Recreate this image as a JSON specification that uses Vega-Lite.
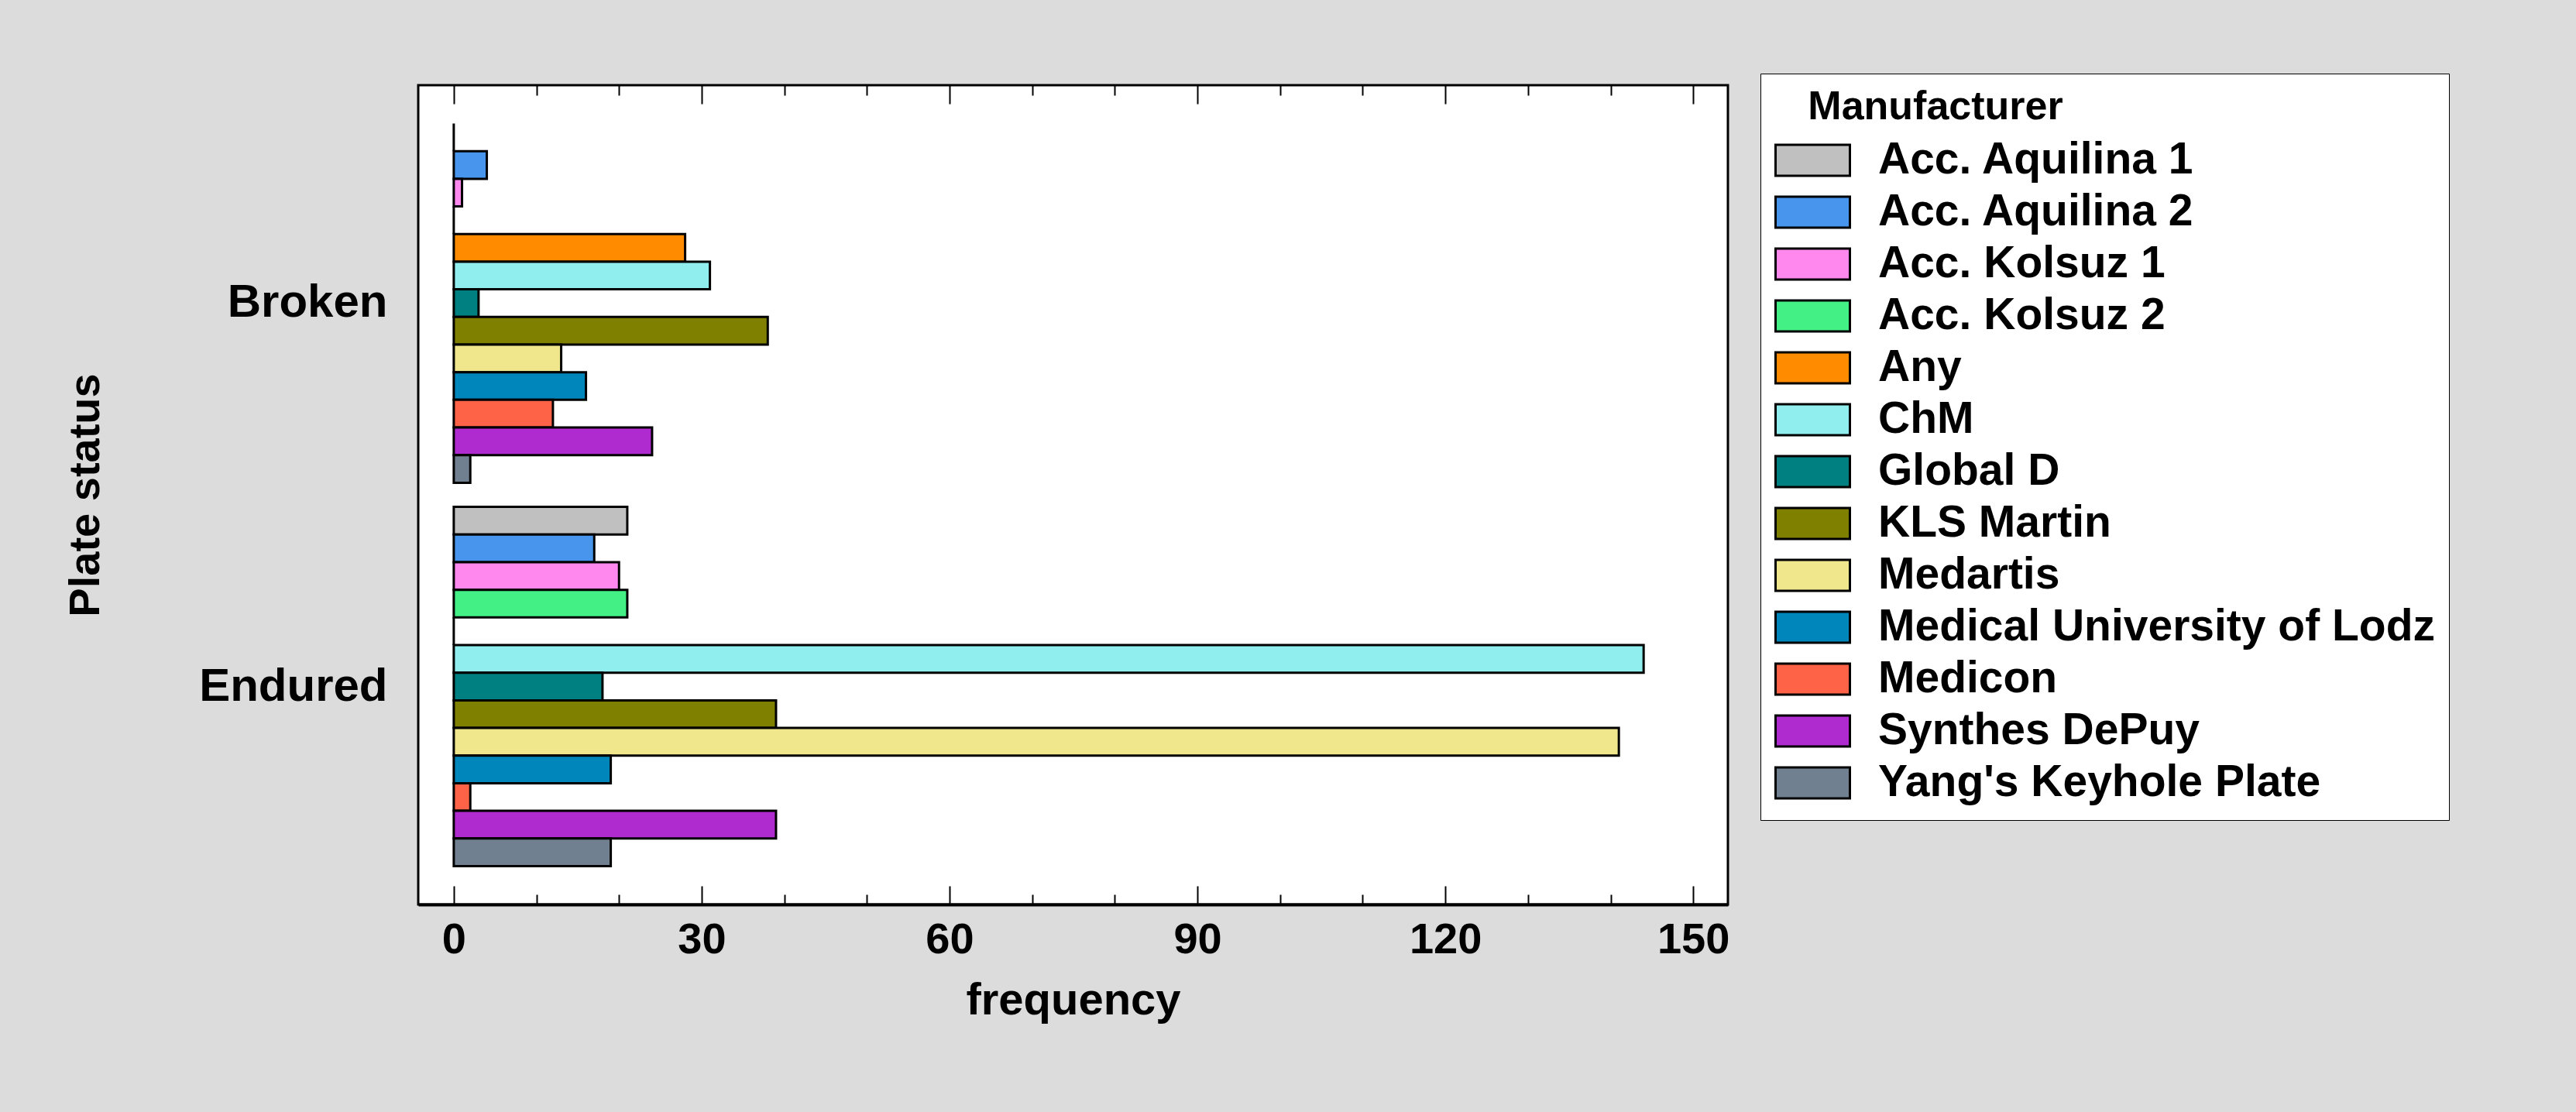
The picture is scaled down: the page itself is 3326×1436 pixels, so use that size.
{
  "$schema": "https://vega.github.io/schema/vega-lite/v6.json",
  "width": 1691,
  "height": 1058,
  "autosize": {"type": "none"},
  "padding": {"left": 540, "top": 110, "right": 1095, "bottom": 268},
  "background": "#DCDCDC",
  "config": {
    "view": {"fill": "white", "stroke": "black", "strokeWidth": 3},
    "font": "Liberation Sans"
  },
  "data": {
    "values": [
      {"status": "Broken", "manufacturer": "Acc. Aquilina 1", "frequency": 0},
      {"status": "Broken", "manufacturer": "Acc. Aquilina 2", "frequency": 4},
      {"status": "Broken", "manufacturer": "Acc. Kolsuz 1", "frequency": 1},
      {"status": "Broken", "manufacturer": "Acc. Kolsuz 2", "frequency": 0},
      {"status": "Broken", "manufacturer": "Any", "frequency": 28},
      {"status": "Broken", "manufacturer": "ChM", "frequency": 31},
      {"status": "Broken", "manufacturer": "Global D", "frequency": 3},
      {"status": "Broken", "manufacturer": "KLS Martin", "frequency": 38},
      {"status": "Broken", "manufacturer": "Medartis", "frequency": 13},
      {"status": "Broken", "manufacturer": "Medical University of Lodz", "frequency": 16},
      {"status": "Broken", "manufacturer": "Medicon", "frequency": 12},
      {"status": "Broken", "manufacturer": "Synthes DePuy", "frequency": 24},
      {"status": "Broken", "manufacturer": "Yang's Keyhole Plate", "frequency": 2},
      {"status": "Endured", "manufacturer": "Acc. Aquilina 1", "frequency": 21},
      {"status": "Endured", "manufacturer": "Acc. Aquilina 2", "frequency": 17},
      {"status": "Endured", "manufacturer": "Acc. Kolsuz 1", "frequency": 20},
      {"status": "Endured", "manufacturer": "Acc. Kolsuz 2", "frequency": 21},
      {"status": "Endured", "manufacturer": "Any", "frequency": 0},
      {"status": "Endured", "manufacturer": "ChM", "frequency": 144},
      {"status": "Endured", "manufacturer": "Global D", "frequency": 18},
      {"status": "Endured", "manufacturer": "KLS Martin", "frequency": 39},
      {"status": "Endured", "manufacturer": "Medartis", "frequency": 141},
      {"status": "Endured", "manufacturer": "Medical University of Lodz", "frequency": 19},
      {"status": "Endured", "manufacturer": "Medicon", "frequency": 2},
      {"status": "Endured", "manufacturer": "Synthes DePuy", "frequency": 39},
      {"status": "Endured", "manufacturer": "Yang's Keyhole Plate", "frequency": 19}
    ]
  },
  "layer": [
    {
      "mark": {"type": "bar", "stroke": "black", "strokeWidth": 3, "opacity": 1},
      "encoding": {
        "y": {
          "field": "status", "type": "nominal", "sort": ["Broken", "Endured"],
          "title": "Plate status",
          "scale": {"paddingInner": 0.063, "paddingOuter": 0.1},
          "axis": {
            "domain": false, "ticks": false,
            "labelFontSize": 60, "labelFontWeight": "bold", "labelColor": "black",
            "labelPadding": 40, "labelLimit": 1000,
            "titleFontSize": 56, "titleFontWeight": "bold", "titleColor": "black",
            "titleX": -430, "titleBaseline": "middle"
          }
        },
        "yOffset": {
          "field": "manufacturer", "type": "nominal",
          "sort": ["Acc. Aquilina 1", "Acc. Aquilina 2", "Acc. Kolsuz 1", "Acc. Kolsuz 2", "Any", "ChM", "Global D", "KLS Martin", "Medartis", "Medical University of Lodz", "Medicon", "Synthes DePuy", "Yang's Keyhole Plate"],
          "scale": {"paddingInner": 0, "paddingOuter": 0}
        },
        "x": {
          "field": "frequency", "type": "quantitative", "stack": null,
          "title": "frequency",
          "scale": {"domain": [-4.3, 154.2], "nice": false, "zero": false},
          "axis": {
            "orient": "bottom",
            "values": [0, 10, 20, 30, 40, 50, 60, 70, 80, 90, 100, 110, 120, 130, 140, 150],
            "labelExpr": "datum.value % 30 === 0 ? datum.label : ''",
            "tickSize": {"condition": {"test": "datum.value % 30 === 0", "value": -24}, "value": -13},
            "tickWidth": 2, "tickColor": "black",
            "domainColor": "black", "domainWidth": 4,
            "grid": false,
            "labelFontSize": 56, "labelFontWeight": "bold", "labelColor": "black",
            "labelPadding": 42, "labelFlush": false,
            "titleFontSize": 58, "titleFontWeight": "bold", "titleColor": "black",
            "titlePadding": 22
          }
        },
        "color": {
          "field": "manufacturer", "type": "nominal",
          "scale": {
            "domain": ["Acc. Aquilina 1", "Acc. Aquilina 2", "Acc. Kolsuz 1", "Acc. Kolsuz 2", "Any", "ChM", "Global D", "KLS Martin", "Medartis", "Medical University of Lodz", "Medicon", "Synthes DePuy", "Yang's Keyhole Plate"],
            "range": ["#C0C0C0", "#4795EC", "#FF88EE", "#42F085", "#FF8C00", "#91EEEE", "#008080", "#808000", "#F0E68C", "#0086BB", "#FF6347", "#B02BCF", "#708090"]
          },
          "legend": {
            "orient": "none", "legendX": 1733, "legendY": -15,
            "title": "\u200b\u00a0\u00a0\u00a0Manufacturer",
            "titleFontSize": 52, "titleFontWeight": "bold", "titleColor": "black",
            "titlePadding": 12, "titleLimit": 2000,
            "labelFontSize": 57, "labelFontWeight": "bold", "labelColor": "black",
            "labelLimit": 2000, "labelOffset": 35,
            "symbolType": "M-1,-0.4167H1V0.4167H-1Z", "symbolSize": 9216,
            "symbolStrokeColor": "black", "symbolStrokeWidth": 3, "symbolOpacity": 1,
            "clipHeight": 60, "rowPadding": 7, "padding": 18,
            "strokeColor": "black", "fillColor": "white"
          }
        }
      }
    },
    {
      "mark": {"type": "bar", "opacity": 0},
      "encoding": {
        "y": {"field": "status", "type": "nominal", "sort": ["Broken", "Endured"]},
        "x": {
          "field": "frequency", "type": "quantitative", "stack": null,
          "scale": {"domain": [-4.3, 154.2], "nice": false, "zero": false},
          "axis": {
            "orient": "top", "title": null, "labels": false, "domain": false, "grid": false,
            "values": [0, 10, 20, 30, 40, 50, 60, 70, 80, 90, 100, 110, 120, 130, 140, 150],
            "tickSize": {"condition": {"test": "datum.value % 30 === 0", "value": -24}, "value": -13},
            "tickWidth": 2, "tickColor": "black"
          }
        }
      }
    }
  ],
  "resolve": {"axis": {"x": "independent"}}
}
